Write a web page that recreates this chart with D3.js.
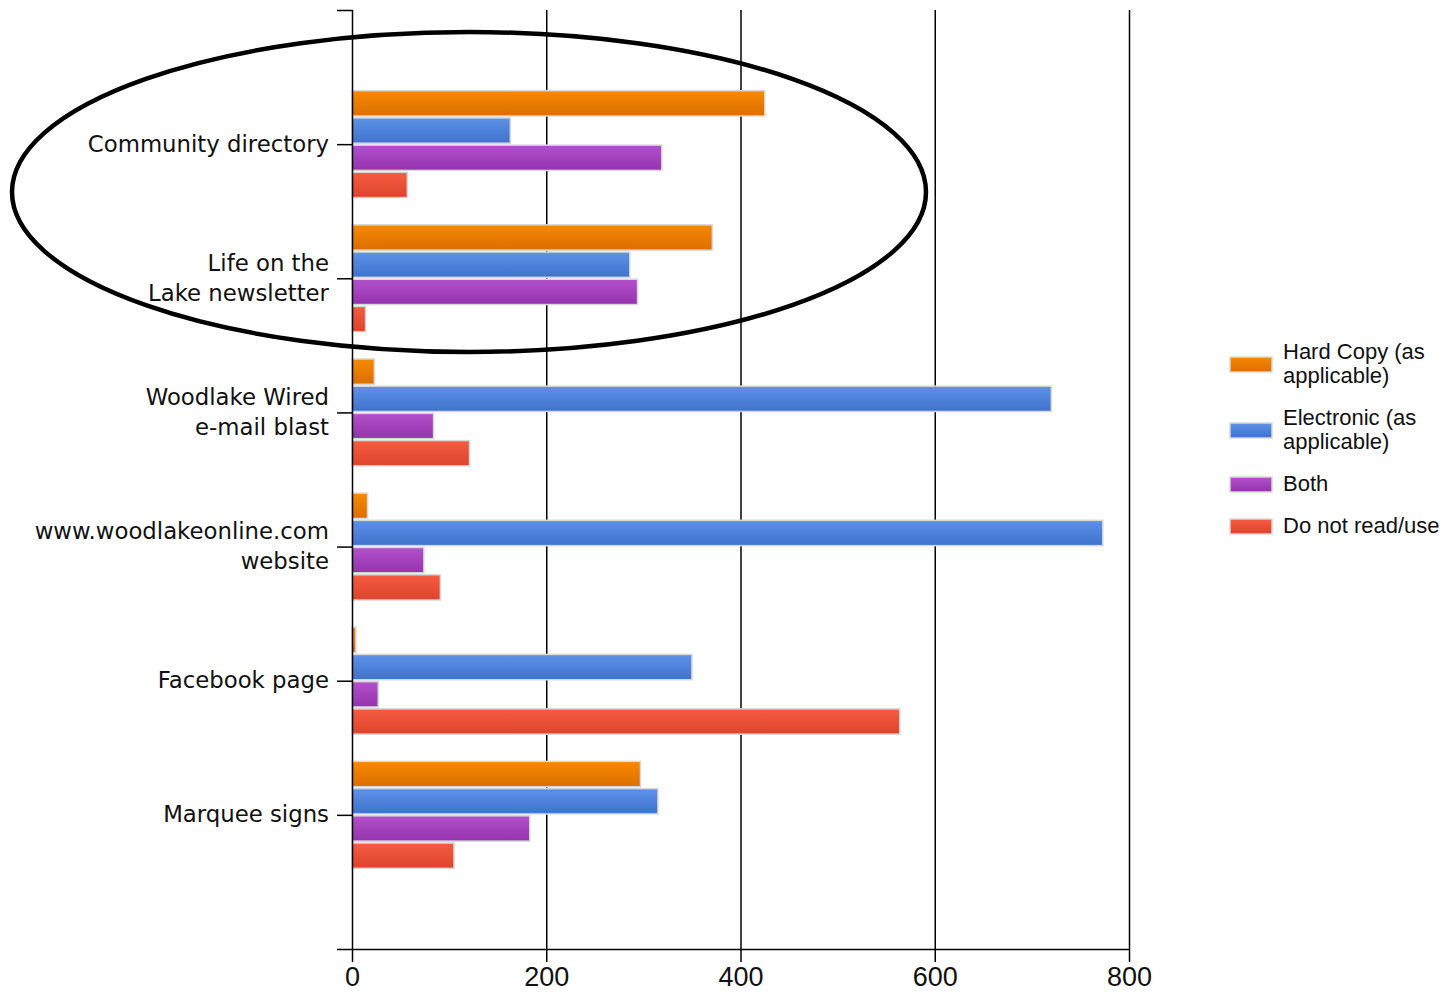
<!DOCTYPE html>
<html><head><meta charset="utf-8">
<script src="https://cdn.jsdelivr.net/npm/d3@7"></script>
<style>
body{margin:0;background:#fff;}
svg{display:block;}
</style></head>
<body>
<svg id="chart" width="1449" height="995"></svg>
<script>
const categories = ["Community directory", "Life on the\nLake newsletter", "Woodlake Wired\ne-mail blast", "www.woodlakeonline.com\nwebsite", "Facebook page", "Marquee signs"];
const seriesNames = ["Hard Copy (as\napplicable)", "Electronic (as\napplicable)", "Both", "Do not read/use"];
const hardCopy   = [425, 371, 23, 16, 4, 297];
const electronic = [163, 286, 720, 773, 350, 315];
const both       = [319, 294, 84, 74, 27, 183];
const doNotUse   = [57, 14, 121, 91, 564, 105];
const xTicks = [0, 200, 400, 600, 800];
const seriesValues = [hardCopy, electronic, both, doNotUse];
const colorsTop = ["#f68a00", "#5e92e8", "#b450cc", "#f65c40"];
const colorsBot = ["#dc6e00", "#3f72cc", "#9433ae", "#de432c"];

const svg = d3.select("#chart");
const mLeft = 352, mTop = 10, mBottom = 949, mRight = 1129;

const x = d3.scaleLinear().domain([0, 800]).range([mLeft, mRight]);
const y = d3.scalePoint().domain(categories).range([mTop, mBottom]).padding(1);
const inner = d3.scaleBand().domain(d3.range(4)).range([-54, 54]).paddingInner(0.07).paddingOuter(0.02);

// gradients
const defs = svg.append("defs");
colorsTop.forEach((c, i) => {
  const g = defs.append("linearGradient").attr("id", "g" + i).attr("x1", 0).attr("y1", 0).attr("x2", 0).attr("y2", 1);
  g.append("stop").attr("offset", "0%").attr("stop-color", c);
  g.append("stop").attr("offset", "100%").attr("stop-color", colorsBot[i]);
});

// gridlines
svg.append("g").attr("transform", `translate(0,${mBottom})`)
  .call(d3.axisBottom(x).tickValues(xTicks.slice(1)).tickSize(-(mBottom - mTop)).tickFormat(""))
  .call(g => g.select(".domain").remove())
  .call(g => g.selectAll("line").attr("stroke", "#000").attr("stroke-width", 1.5));

// bars
categories.forEach((cat, ci) => {
  seriesValues.forEach((vals, si) => {
    svg.append("rect")
      .attr("x", x(0))
      .attr("y", y(cat) + inner(si))
      .attr("width", x(vals[ci]) - x(0))
      .attr("height", inner.bandwidth())
      .attr("fill", `url(#g${si})`)
      .attr("stroke", "#d8d8d8")
      .attr("stroke-width", 1.5);
  });
});

// bottom axis
const xAxis = svg.append("g").attr("transform", `translate(0,${mBottom})`)
  .call(d3.axisBottom(x).tickValues(xTicks).tickSize(13).tickSizeOuter(0).tickPadding(5));
xAxis.select(".domain").attr("stroke", "#000").attr("stroke-width", 1.5);
xAxis.selectAll("line").attr("stroke", "#000").attr("stroke-width", 1.5);
xAxis.selectAll("text").attr("font-family", "Liberation Sans, Arial, sans-serif")
  .attr("font-size", 27).attr("fill", "#111");

// left axis
const yAxis = svg.append("g").attr("transform", `translate(${mLeft},0)`)
  .call(d3.axisLeft(y).tickSize(15).tickSizeOuter(15).tickPadding(7).tickFormat(""));
yAxis.select(".domain").attr("stroke", "#000").attr("stroke-width", 1.5);
yAxis.selectAll("line").attr("stroke", "#000").attr("stroke-width", 1.5);
yAxis.selectAll(".tick").each(function(d) {
  const lines = d.split("\n");
  const t = d3.select(this).select("text")
    .attr("font-family", "DejaVu Sans, sans-serif").attr("font-size", 22.8).attr("fill", "#111")
    .attr("x", -23).attr("dy", null).attr("y", 0);
  lines.forEach((ln, i) => {
    t.append("tspan").attr("x", -23)
      .attr("y", (i - (lines.length - 1) / 2) * 30 - 1)
      .attr("dy", "0.35em").text(ln);
  });
});

// legend
const legend = svg.append("g").attr("font-family", "Liberation Sans, Arial, sans-serif").attr("font-size", 22).attr("fill", "#111");
const legY = [364, 430, 484, 526];
seriesNames.forEach((name, i) => {
  legend.append("rect").attr("x", 1230).attr("y", legY[i] - 7).attr("width", 42).attr("height", 15)
    .attr("fill", `url(#g${i})`).attr("stroke", "#d8d8d8").attr("stroke-width", 1.5);
  const lines = name.split("\n");
  const t = legend.append("text").attr("x", 1283);
  lines.forEach((ln, j) => {
    t.append("tspan").attr("x", 1283).attr("y", legY[i] + (j - (lines.length - 1) / 2) * 24 - 1)
      .attr("dy", "0.35em").text(ln);
  });
});

// annotation ellipse
svg.append("ellipse").attr("cx", 469).attr("cy", 192).attr("rx", 457).attr("ry", 160)
  .attr("fill", "none").attr("stroke", "#000").attr("stroke-width", 4.5);
</script>
</body></html>
